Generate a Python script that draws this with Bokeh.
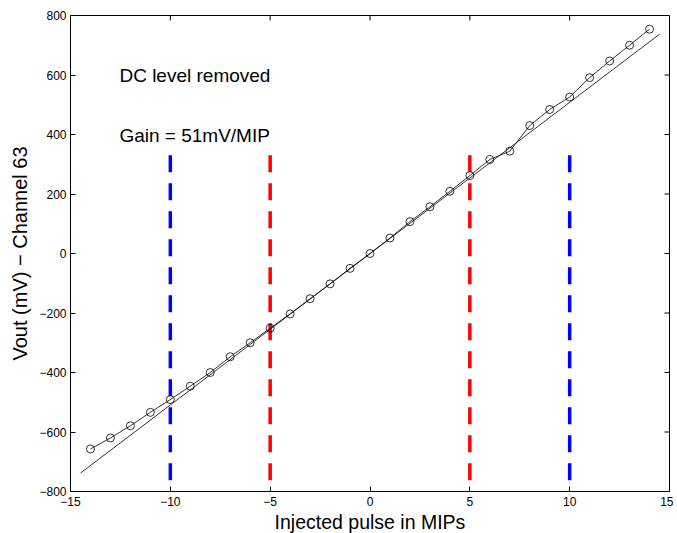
from bokeh.plotting import figure
from bokeh.models import Range1d, FixedTicker, Label
from bokeh.embed import file_html
from bokeh.resources import INLINE

# Data
pulse_mips = [-14, -13, -12, -11, -10, -9, -8, -7, -6, -5, -4, -3, -2, -1, 0,
              1, 2, 3, 4, 5, 6, 7, 8, 9, 10, 11, 12, 13, 14]
vout_mv = [-657, -620, -579, -534, -491, -446, -400, -347, -300, -251, -203, -152, -102, -50, 0,
           52, 107, 157, 209, 262, 316, 344, 430, 484, 526, 591, 647, 700, 754]

fit_x = [-14.5, 14.5]
fit_y = [-738, 737]

marker_x = [-10, -5, 5, 10]
marker_colors = ["#0000ff", "#ff0000", "#ff0000", "#0000ff"]
marker_top = [330, 330, 330, 330]
marker_bottom = [-800, -800, -800, -800]

x_ticks = [-15, -10, -5, 0, 5, 10, 15]
y_ticks = [-800, -600, -400, -200, 0, 200, 400, 600, 800]
X_MIN, X_MAX = -15, 15
Y_MIN, Y_MAX = -800, 800

FONT = "Liberation Sans"
FRAME_W, FRAME_H = 599, 476
TICK_PX = 5

p = figure(width=673, height=533, output_backend="svg", toolbar_location=None,
           x_range=Range1d(X_MIN, X_MAX), y_range=Range1d(Y_MIN, Y_MAX),
           min_border_left=70, min_border_right=4, min_border_top=15, min_border_bottom=10)
p.frame_width = FRAME_W
p.frame_height = FRAME_H
p.background_fill_color = "white"
p.border_fill_color = "white"
p.outline_line_color = "black"
p.outline_line_width = 1
p.grid.visible = False

def minus(v):
    return str(v).replace("-", "\u2212")

for ax, ticks in ((p.xaxis[0], x_ticks), (p.yaxis[0], y_ticks)):
    ax.ticker = FixedTicker(ticks=ticks)
    ax.major_label_overrides = {t: minus(t) for t in ticks}
    ax.major_tick_in = TICK_PX
    ax.major_tick_out = 0
    ax.minor_tick_line_color = None
    ax.axis_line_color = "black"
    ax.major_tick_line_color = "black"
    ax.major_label_text_font = FONT
    ax.major_label_text_font_size = "12px"
    ax.major_label_text_color = "black"
    ax.axis_label_text_font = FONT
    ax.axis_label_text_font_style = "normal"
    ax.axis_label_text_color = "black"

p.xaxis[0].axis_label = "Injected pulse in MIPs"
p.xaxis[0].axis_label_text_font_size = "19.5px"
p.xaxis[0].axis_label_standoff = 2
p.xaxis[0].major_label_standoff = 5
p.yaxis[0].axis_label = "Vout (mV) \u2212 Channel 63"
p.yaxis[0].axis_label_text_font_size = "20px"
p.yaxis[0].axis_label_standoff = 5
p.yaxis[0].major_label_standoff = 4

# Inward ticks on the top and right edges of the box (from the tick lists)
dx = TICK_PX * (X_MAX - X_MIN) / FRAME_W
dy = TICK_PX * (Y_MAX - Y_MIN) / FRAME_H
p.segment(x0=x_ticks, y0=[Y_MAX] * len(x_ticks), x1=x_ticks, y1=[Y_MAX - dy] * len(x_ticks),
          line_color="black", line_width=1)
p.segment(x0=[X_MAX] * len(y_ticks), y0=y_ticks, x1=[X_MAX - dx] * len(y_ticks), y1=y_ticks,
          line_color="black", line_width=1)

# Dashed vertical markers
p.segment(x0=marker_x, y0=marker_top, x1=marker_x, y1=marker_bottom,
          line_color=marker_colors, line_width=3.5, line_dash="17 11")

# Linear fit
p.line(fit_x, fit_y, line_color="black", line_width=0.8)

# Measured points
p.line(pulse_mips, vout_mv, line_color="black", line_width=0.8)
p.scatter(pulse_mips, vout_mv, marker="circle", size=8, fill_color=None,
          line_color="black", line_width=0.8)

p.add_layout(Label(x=-12.55, y=598, text="DC level removed", text_font=FONT,
                   text_font_size="19px", text_color="black", text_baseline="middle"))
p.add_layout(Label(x=-12.55, y=395, text="Gain = 51mV/MIP", text_font=FONT,
                   text_font_size="19px", text_color="black", text_baseline="middle"))

open("out.html", "w").write(file_html(p, INLINE))
